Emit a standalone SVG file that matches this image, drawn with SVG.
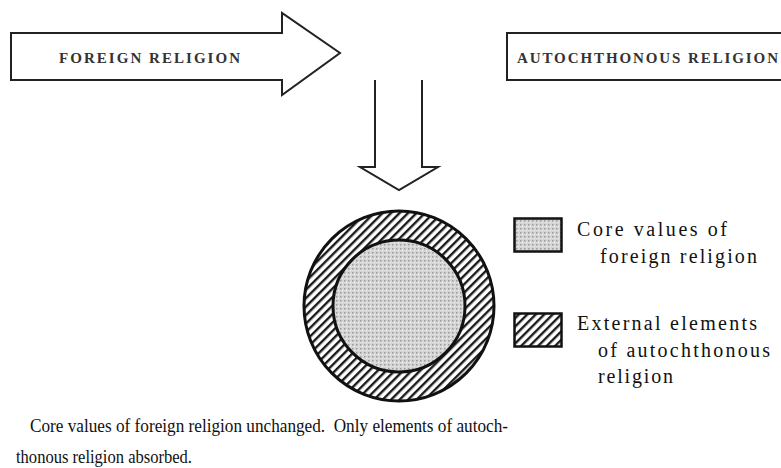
<svg xmlns="http://www.w3.org/2000/svg" width="781" height="468" viewBox="0 0 781 468">
<style>
.shape{fill:#fff;stroke:#222;stroke-width:2;stroke-linejoin:miter}
.caps{font-family:"Liberation Serif",serif;font-size:15px;font-weight:bold;fill:#333}
.txt{font-family:"Liberation Serif",serif;font-size:20px;fill:#111}
.cap{font-family:"Liberation Serif",serif;font-size:19px;fill:#111}
</style>
<defs>
<pattern id="hatch" patternUnits="userSpaceOnUse" width="6" height="6" patternTransform="rotate(45)">
<rect width="6" height="6" fill="#fff"/>
<rect x="0" y="0" width="2.4" height="6" fill="#1a1a1a"/>
</pattern>
<pattern id="stipple" patternUnits="userSpaceOnUse" width="4" height="4">
<rect width="4" height="4" fill="#d6d6d6"/>
<rect x="0" y="0" width="1.5" height="1.5" fill="#9a9a9a"/>
<rect x="2" y="2" width="1" height="1" fill="#f2f2f2"/>
</pattern>
</defs>
<g id="foreign-religion">
<polygon class="shape" points="11,33 282,33 282,13 340,53 282,95 282,80 11,80"/>
<text class="caps" x="59" y="63" textLength="181" lengthAdjust="spacing">FOREIGN RELIGION</text>
</g>
<g id="autochthonous-religion">
<polygon class="shape" points="790,33 507,33 507,80 790,80"/>
<text class="caps" x="517" y="63" textLength="261" lengthAdjust="spacing">AUTOCHTHONOUS RELIGION</text>
</g>
<g id="connectors">
<polyline class="shape" points="375,80 375,167 360,167 399,190 438,167 422,167 422,80"/>
</g>
<g id="result-circle">
<circle cx="399" cy="306" r="95" fill="url(#hatch)" stroke="#111" stroke-width="3"/>
<circle cx="399" cy="306" r="66" fill="url(#stipple)" stroke="#111" stroke-width="3"/>
</g>
<g id="legend-core">
<rect x="514.5" y="218.5" width="47" height="33" fill="url(#stipple)" stroke="#111" stroke-width="2.5"/>
<text class="txt" x="577" y="236" textLength="150" lengthAdjust="spacing">Core values of</text>
<text class="txt" x="600" y="263" textLength="157" lengthAdjust="spacing">foreign religion</text>
</g>
<g id="legend-external">
<rect x="514.5" y="313.5" width="47" height="33" fill="url(#hatch)" stroke="#111" stroke-width="2.5"/>
<text class="txt" x="577" y="330" textLength="180" lengthAdjust="spacing">External elements</text>
<text class="txt" x="598" y="357" textLength="172" lengthAdjust="spacing">of autochthonous</text>
<text class="txt" x="598" y="383" textLength="75" lengthAdjust="spacing">religion</text>
</g>
<g id="caption">
<text class="cap" x="30" y="432" textLength="478" lengthAdjust="spacingAndGlyphs">Core values of foreign religion unchanged.&#160; Only elements of autoch-</text>
<text class="cap" x="16" y="463" textLength="176" lengthAdjust="spacingAndGlyphs">thonous religion absorbed.</text>
</g>
</svg>
